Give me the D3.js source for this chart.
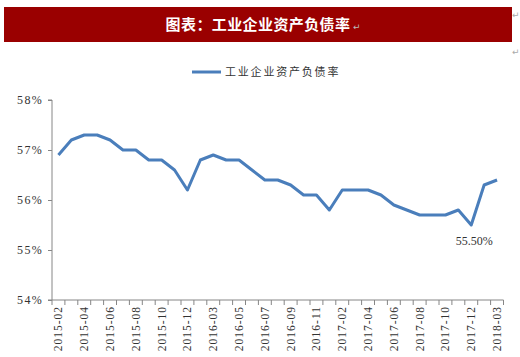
<!DOCTYPE html>
<html><head><meta charset="utf-8">
<script src="https://cdn.jsdelivr.net/npm/d3@7"></script>
<style>body{margin:0;background:#fff}svg{display:block}</style>
</head><body>
<svg id="c" width="520" height="357"></svg>
<script>
const title = "图表：工业企业资产负债率";
const seriesName = "工业企业资产负债率";
const categories = ["2015-02","2015-03","2015-04","2015-05","2015-06","2015-07","2015-08","2015-09","2015-10","2015-11","2015-12",
"2016-02","2016-03","2016-04","2016-05","2016-06","2016-07","2016-08","2016-09","2016-10","2016-11","2016-12",
"2017-02","2017-03","2017-04","2017-05","2017-06","2017-07","2017-08","2017-09","2017-10","2017-11","2017-12",
"2018-02","2018-03"];
const values = [56.9,57.2,57.3,57.3,57.2,57.0,57.0,56.8,56.8,56.6,56.2,
56.8,56.9,56.8,56.8,56.6,56.4,56.4,56.3,56.1,56.1,55.8,
56.2,56.2,56.2,56.1,55.9,55.8,55.7,55.7,55.7,55.8,55.5,
56.3,56.4];
const yTicks = [54,55,56,57,58];
const labelEvery = 2;
const annotation = {index: 32, text: "55.50%"};

const svg = d3.select("#c");
const serif = "'Liberation Serif','Times New Roman',serif";
const cjk = "'Noto Sans CJK SC','Noto Sans CJK JP',sans-serif";

// title bar
svg.append("rect").attr("x",4).attr("y",7).attr("width",508).attr("height",35).attr("fill","#9a0000");
svg.append("text").attr("x",258).attr("y",30).attr("text-anchor","middle").attr("letter-spacing",0.4)
  .attr("fill","#fff").attr("font-family",cjk).attr("font-weight","bold").attr("font-size",15).text(title);
svg.append("text").attr("x",353).attr("y",30).attr("fill","#bbb").attr("font-size",9).attr("font-family","DejaVu Sans").text("↵");
svg.append("text").attr("x",512).attr("y",18).attr("fill","#aaa").attr("font-size",9).attr("font-family","DejaVu Sans").text("↵");
svg.append("text").attr("x",512).attr("y",55).attr("fill","#aaa").attr("font-size",9).attr("font-family","DejaVu Sans").text("↵");

const x0 = 52, x1 = 503.5, yTop = 100, yBot = 300;
const x = d3.scaleBand().domain(categories).range([x0, x1]);
const y = d3.scaleLinear().domain([54,58]).range([yBot, yTop]);

// legend
svg.append("line").attr("x1",192).attr("x2",221).attr("y1",72).attr("y2",72)
  .attr("stroke","#4a7ebb").attr("stroke-width",3);
svg.append("text").attr("x",225).attr("y",76).attr("font-family",cjk).attr("font-size",11).attr("fill","#333").attr("letter-spacing",1.8).text(seriesName);

// y axis
const yAxis = d3.axisLeft(y).tickValues(yTicks).tickSize(4).tickFormat(d => d + "%");
const gy = svg.append("g").attr("transform",`translate(${x0},0)`).call(yAxis);
gy.select(".domain").attr("stroke","#868686").attr("d",`M-4,${yTop}H0V${yBot}H-4`);
gy.selectAll(".tick line").attr("stroke","#868686");
gy.selectAll(".tick text").attr("font-family",serif).attr("font-size",12).attr("letter-spacing",1.3).attr("fill","#333").attr("x",-9);

// x axis
const xAxis = d3.axisBottom(x).tickSize(0).tickFormat((d,i) => i % labelEvery === 0 ? d : "");
const gx = svg.append("g").attr("transform",`translate(0,${yBot})`).call(xAxis);
gx.select(".domain").attr("stroke","#868686").attr("d",`M${x0},0H${x1}`);
gx.selectAll(".tick text").attr("font-family",serif).attr("font-size",11.5).attr("letter-spacing",1).attr("fill","#333")
  .attr("transform","rotate(-90)").attr("text-anchor","end").attr("x",-6).attr("y",0).attr("dy","0.35em");
// category boundary ticks
const bounds = categories.map(c => x(c)).concat([x1]);
svg.append("g").selectAll("line").data(bounds).join("line")
  .attr("x1",d=>d).attr("x2",d=>d).attr("y1",yBot).attr("y2",yBot+5).attr("stroke","#868686");

// line
const line = d3.line().x((d,i)=>x(categories[i]) + x.bandwidth()/2).y(d=>y(d));
svg.append("path").datum(values).attr("d",line).attr("fill","none")
  .attr("stroke","#4a7ebb").attr("stroke-width",3).attr("stroke-linejoin","round");

// annotation
svg.append("text").attr("x",x(categories[annotation.index]) + x.bandwidth()/2 + 3).attr("y",245)
  .attr("text-anchor","middle").attr("font-family",serif).attr("font-size",12).attr("fill","#333").text(annotation.text);
</script>
</body></html>
